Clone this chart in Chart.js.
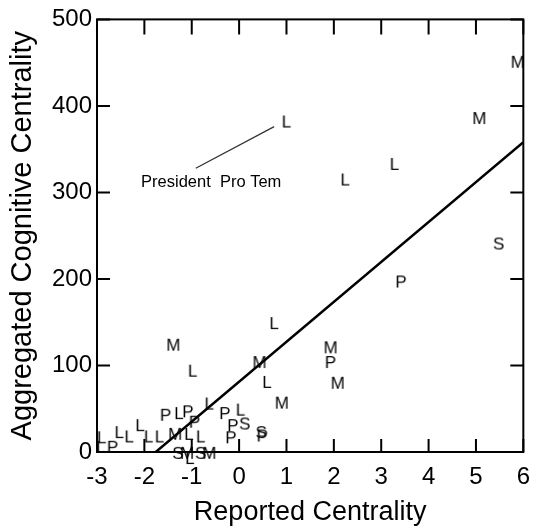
<!DOCTYPE html>
<html>
<head>
<meta charset="utf-8">
<script src="https://cdn.jsdelivr.net/npm/chart.js@4"></script>
<style>
  html, body { margin: 0; padding: 0; background: #fff; }
</style>
</head>
<body>
<canvas id="chart" width="541" height="529"></canvas>
<script>
// values
const xMin = -3, xMax = 6;
const yMin = 0, yMax = 500;

// legislators coded by letter
const lX = [-2.90, -2.92, -2.53, -2.32, -2.09, -1.91, -1.68, -1.27, -1.06, -0.81, -0.63, 0.03, -1.04, 1.00, 3.28, 2.24, 0.74, -0.98, 0.59];
const lY = [17, 6, 23, 18, 31, 18, 18, 45, 21, 18, 56, 49, -7, 382, 333, 315, 149, 94, 81];

const pX = [-2.67, -1.55, -1.08, -0.94, -0.30, -0.13, -0.17, 0.49, 3.42, 1.93];
const pY = [6, 43, 47, 35, 45, 31, 17, 19, 197, 104];

const mX = [-1.35, -1.10, -0.63, 5.07, 5.88, -1.39, 0.43, 0.90, 1.93, 2.08];
const mY = [21, -1, -1, 386, 451, 124, 104, 57, 121, 80];

const sX = [0.12, 0.47, -1.29, -0.81, 5.48];
const sY = [33, 23, -1, -1, 241];

// fitted line, end points
const fitX = [-1.76, 6];
const fitY = [0, 358];

// "President Pro Tem" note
const noteText = 'President  Pro Tem';
const noteAt = [-2.07, 312];
const noteLineX = [-0.915, 0.74];
const noteLineY = [328, 376];

const FONT = '"Liberation Sans", Arial, sans-serif';

const toPoints = (xs, ys) => xs.map((x, i) => ({ x: x, y: ys[i] }));

const letterImage = (ch) => {
    const c = document.createElement('canvas');
    c.width = 24;
    c.height = 24;
    const g = c.getContext('2d');
    g.fillStyle = '#000';
    g.font = '17px ' + FONT;
    g.textAlign = 'center';
    g.textBaseline = 'alphabetic';
    g.fillText(ch, 12, 18);
    return c;
};

const letterSet = (ch, xs, ys) => ({
    type: 'scatter',
    label: ch,
    data: toPoints(xs, ys),
    pointStyle: letterImage(ch),
    pointRadius: 8,
    clip: false
});

const framePlugin = {
    id: 'frame',
    afterDraw(chart) {
        const { ctx, chartArea: a, scales } = chart;
        const t = 13;
        ctx.save();
        ctx.strokeStyle = '#000';
        ctx.lineWidth = 2;
        ctx.strokeRect(a.left, a.top, a.right - a.left, a.bottom - a.top);
        ctx.beginPath();
        scales.x.ticks.forEach(tk => {
            const px = scales.x.getPixelForValue(tk.value);
            ctx.moveTo(px, a.bottom); ctx.lineTo(px, a.bottom - t);
            ctx.moveTo(px, a.top); ctx.lineTo(px, a.top + t + 2);
        });
        scales.y.ticks.forEach(tk => {
            const py = scales.y.getPixelForValue(tk.value);
            ctx.moveTo(a.left, py); ctx.lineTo(a.left + t, py);
            ctx.moveTo(a.right, py); ctx.lineTo(a.right - t, py);
        });
        ctx.stroke();

        // note
        ctx.strokeStyle = '#333';
        ctx.lineWidth = 1.3;
        ctx.beginPath();
        ctx.moveTo(scales.x.getPixelForValue(noteLineX[0]), scales.y.getPixelForValue(noteLineY[0]));
        ctx.lineTo(scales.x.getPixelForValue(noteLineX[1]), scales.y.getPixelForValue(noteLineY[1]));
        ctx.stroke();
        ctx.fillStyle = '#000';
        ctx.font = '16.5px ' + FONT;
        ctx.textBaseline = 'middle';
        ctx.fillText(noteText, scales.x.getPixelForValue(noteAt[0]), scales.y.getPixelForValue(noteAt[1]));
        ctx.restore();
    }
};

new Chart(document.getElementById('chart'), {
    data: {
        datasets: [
            {
                type: 'line',
                label: 'fit',
                data: toPoints(fitX, fitY),
                borderColor: '#000',
                borderWidth: 2.5,
                pointRadius: 0,
                fill: false
            },
            letterSet('L', lX, lY),
            letterSet('P', pX, pY),
            letterSet('M', mX, mY),
            letterSet('S', sX, sY)
        ]
    },
    options: {
        responsive: false,
        animation: false,
        layout: { padding: { top: 15, right: 8, left: 0, bottom: 0 } },
        plugins: {
            legend: { display: false },
            tooltip: { enabled: false }
        },
        scales: {
            x: {
                type: 'linear',
                min: xMin,
                max: xMax,
                grid: { display: false, drawTicks: false },
                border: { display: false },
                ticks: {
                    stepSize: 1,
                    color: '#000',
                    padding: 11,
                    font: { family: FONT, size: 24 }
                },
                title: {
                    display: true,
                    text: 'Reported Centrality',
                    color: '#000',
                    padding: 0,
                    font: { family: FONT, size: 27 }
                },
                afterFit: (s) => { s.height = 77; }
            },
            y: {
                type: 'linear',
                min: yMin,
                max: yMax,
                grid: { display: false, drawTicks: false },
                border: { display: false },
                ticks: {
                    stepSize: 100,
                    color: '#000',
                    padding: 5,
                    font: { family: FONT, size: 24 }
                },
                title: {
                    display: true,
                    text: 'Aggregated Cognitive Centrality',
                    color: '#000',
                    padding: { top: 6, bottom: 0 },
                    font: { family: FONT, size: 29 }
                },
                afterFit: (s) => { s.width = 97; }
            }
        }
    },
    plugins: [framePlugin]
});
</script>
</body>
</html>
